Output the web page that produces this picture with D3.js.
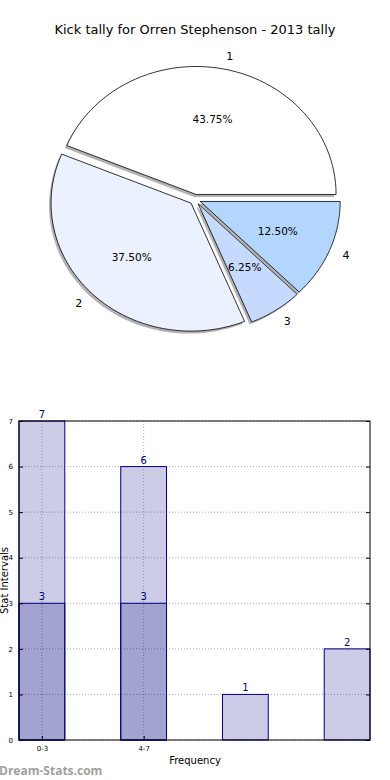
<!DOCTYPE html>
<html>
<head>
<meta charset="utf-8">
<script src="https://cdn.jsdelivr.net/npm/d3@7"></script>
<style>
  body { margin: 0; background: #fff; }
  svg { display: block; font-family: "DejaVu Sans", sans-serif; }
</style>
</head>
<body>
<svg width="390" height="780"></svg>
<script>
// pie data
const sliceNames = ['1', '2', '3', '4'];
const slicePct = [43.75, 37.50, 6.25, 12.50];
const sliceColors = ['#ffffff', '#ebf1fe', '#c6d9fe', '#b3d6ff'];

// bar data
const barCats = ['0-3', '4-7', '', ''];
const totalVals = [7, 6, 1, 2];
const lowVals = [3, 3, 0, 0];
const yTicks = [0, 1, 2, 3, 4, 5, 6, 7];

const svg = d3.select('svg');

svg.append('text')
    .attr('x', 195).attr('y', 34)
    .attr('text-anchor', 'middle')
    .attr('font-size', 13)
    .text('Kick tally for Orren Stephenson - 2013 tally');

// ---- pie (matplotlib style: start at 3 o'clock, counter-clockwise, squashed) ----
const cx = 195, cy = 199.5, rx = 140, ry = 128, explode = 0.04;
const total = d3.sum(slicePct);
let acc = 0;
const wedges = slicePct.map((v, i) => {
    const a0 = acc / total * 2 * Math.PI;
    acc += v;
    const a1 = acc / total * 2 * Math.PI;
    return {i, v, a0, a1, mid: (a0 + a1) / 2};
});

const pt = (a, k) => [k * rx * Math.cos(a), -k * ry * Math.sin(a)];

function wedgePath(w) {
    const p = d3.path();
    p.moveTo(0, 0);
    const n = 60;
    for (let s = 0; s <= n; s++) {
        const a = w.a0 + (w.a1 - w.a0) * s / n;
        const [x, y] = pt(a, 1);
        p.lineTo(x, y);
    }
    p.closePath();
    return p.toString();
}

const pie = svg.append('g').attr('transform', `translate(${cx},${cy})`);
wedges.forEach(w => {
    const [ox, oy] = pt(w.mid, explode);
    const g = pie.append('g').attr('transform', `translate(${ox},${oy})`);
    g.append('path')
        .attr('d', wedgePath(w))
        .attr('transform', 'translate(-2,2.5)')
        .attr('fill', '#666').attr('opacity', 0.5);
    g.append('path')
        .attr('d', wedgePath(w))
        .attr('fill', sliceColors[w.i])
        .attr('stroke', '#000').attr('stroke-width', 0.8);
});
wedges.forEach(w => {
    const [ox, oy] = pt(w.mid, explode);
    const [lx, ly] = pt(w.mid, 1.1);
    const c = Math.cos(w.mid);
    pie.append('text')
        .attr('x', ox + lx).attr('y', oy + ly)
        .attr('dy', '0.35em')
        .attr('text-anchor', c > 0 ? 'start' : 'end')
        .attr('font-size', 11)
        .text(sliceNames[w.i]);
    const [px, py] = pt(w.mid, 0.6);
    pie.append('text')
        .attr('x', ox + px).attr('y', oy + py)
        .attr('dy', '0.35em')
        .attr('text-anchor', 'middle')
        .attr('font-size', 10.5)
        .text(w.v.toFixed(2) + '%');
});

// ---- bars ----
const L = 19, R = 370, T = 421, B = 740, bw = 0.45;
const x = d3.scaleLinear().domain([0, 3 + bw]).range([L, R]);
const y = d3.scaleLinear().domain([0, 7]).range([B, T]);

const grid = svg.append('g');
yTicks.forEach(t => {
    grid.append('line')
        .attr('x1', L).attr('x2', R).attr('y1', y(t)).attr('y2', y(t))
        .attr('stroke', '#999').attr('stroke-dasharray', '1,2').attr('stroke-width', 0.8);
});
barCats.forEach((c, i) => {
    if (!c) return;
    grid.append('line')
        .attr('x1', x(i + bw / 2)).attr('x2', x(i + bw / 2)).attr('y1', T).attr('y2', B)
        .attr('stroke', '#999').attr('stroke-dasharray', '1,2').attr('stroke-width', 0.8);
});

const drawSeries = (vals) => {
    svg.append('g').selectAll('rect')
        .data(vals.map((v, i) => ({v, i})).filter(d => d.v > 0))
        .enter().append('rect')
        .attr('x', d => x(d.i))
        .attr('y', d => y(d.v))
        .attr('width', d => x(d.i + bw) - x(d.i))
        .attr('height', d => B - y(d.v))
        .attr('fill', 'navy').attr('fill-opacity', 0.2)
        .attr('stroke', 'navy').attr('stroke-width', 1);
    svg.append('g').selectAll('text')
        .data(vals.map((v, i) => ({v, i})).filter(d => d.v > 0))
        .enter().append('text')
        .attr('x', d => x(d.i + bw / 2))
        .attr('y', d => y(d.v) - 3)
        .attr('text-anchor', 'middle')
        .attr('font-size', 10)
        .attr('fill', 'navy')
        .text(d => d.v);
};
drawSeries(totalVals);
drawSeries(lowVals);

// frame
svg.append('rect')
    .attr('x', L).attr('y', T).attr('width', R - L).attr('height', B - T)
    .attr('fill', 'none').attr('stroke', '#000').attr('stroke-width', 1);

const yAxis = svg.append('g')
    .attr('transform', `translate(${L},0)`)
    .call(d3.axisLeft(y).tickValues(yTicks).tickFormat(d3.format('d')).tickSize(-4).tickPadding(6));
yAxis.select('.domain').remove();
yAxis.selectAll('text').attr('font-size', 7).attr('font-family', 'DejaVu Sans');

const yAxisR = svg.append('g')
    .attr('transform', `translate(${R},0)`)
    .call(d3.axisRight(y).tickValues(yTicks).tickSize(-4).tickFormat(''));
yAxisR.select('.domain').remove();

const xAxis = svg.append('g')
    .attr('transform', `translate(0,${B})`)
    .call(d3.axisBottom(x)
        .tickValues(barCats.map((c, i) => i + bw / 2).filter((v, i) => barCats[i]))
        .tickFormat((d, i) => barCats[i]).tickSize(-4).tickPadding(6));
xAxis.select('.domain').remove();
xAxis.selectAll('text').attr('font-size', 7).attr('font-family', 'DejaVu Sans');

svg.append('text')
    .attr('x', 195).attr('y', 764)
    .attr('text-anchor', 'middle')
    .attr('font-size', 10)
    .text('Frequency');

svg.append('text')
    .attr('transform', 'translate(8,580.5) rotate(-90)')
    .attr('text-anchor', 'middle')
    .attr('font-size', 10)
    .text('Stat Intervals');

svg.append('text')
    .attr('x', -1).attr('y', 775)
    .attr('font-size', 12)
    .attr('font-weight', 'bold')
    .attr('font-family', '"Open Sans", sans-serif')
    .attr('fill', '#a0a0a0')
    .text('Dream-Stats.com');
</script>
</body>
</html>
